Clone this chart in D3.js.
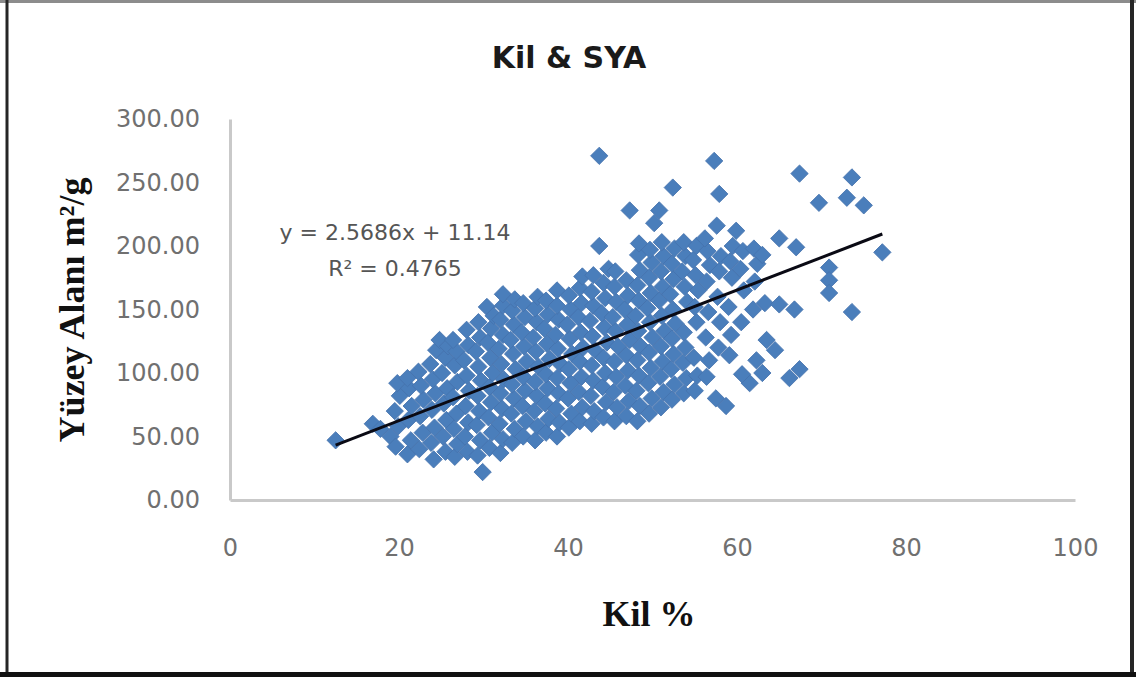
<!DOCTYPE html>
<html>
<head>
<meta charset="utf-8">
<script src="https://cdn.jsdelivr.net/npm/d3@7"></script>
<style>
  html, body { margin: 0; padding: 0; background: #fff; }
  svg { display: block; }
</style>
</head>
<body>
<svg id="chart" width="1136" height="677"></svg>
<script>
// Labels and axis ticks
const chartTitle = "Kil & SYA";
const xLabel = "Kil %";
const yLabel = "Yüzey Alanı m²/g";
const xTicks = [0, 20, 40, 60, 80, 100];
const yTicks = [0, 50, 100, 150, 200, 250, 300];

// Linear trend reported on the chart
const trendSlope = 2.5686;
const trendIntercept = 11.14;
const rSquared = 0.4765;

// Samples: [clay %, specific surface area m²/g]
const samples = [
  [12.5,47],[16.9,60],[17.8,56],[19.0,50],[29.9,22],
  [19.6,42],[19.9,58],[19.5,70],[20.1,82],[19.8,92],
  [21.0,36],[21.4,47],[21.1,63],[21.5,74],[21.2,88],[21.0,96],
  [22.4,40],[22.8,53],[22.5,66],[22.9,79],[22.6,90],[22.3,101],
  [24.1,32],[23.8,45],[24.2,57],[23.9,71],[24.3,84],[24.0,95],[23.7,107],[24.4,118],[24.8,126],
  [25.5,38],[25.2,50],[25.6,63],[25.3,76],[25.7,88],[25.1,100],[25.5,112],[25.8,121],
  [26.6,34],[26.9,44],[26.5,56],[26.8,68],[26.4,81],[26.9,93],[26.6,106],[26.8,117],[26.4,126],
  [28.1,38],[27.8,50],[28.2,61],[27.9,74],[28.3,86],[28.0,98],[27.7,110],[28.2,122],[28.0,134],
  [29.3,35],[29.6,47],[29.2,59],[29.5,70],[29.3,82],[29.7,94],[29.4,105],[29.1,117],[29.6,128],[29.4,140],[30.4,152],
  [30.7,41],[31.0,53],[30.6,65],[30.9,77],[30.7,89],[31.1,100],[30.8,112],[30.5,124],[30.9,135],[31.2,145],
  [32.0,37],[32.3,48],[31.9,60],[32.2,72],[32.0,84],[32.4,95],[32.1,107],[31.8,119],[32.3,130],[32.0,142],[32.3,153],[32.3,162],
  [33.4,45],[33.7,56],[33.3,68],[33.6,80],[33.4,91],[33.8,103],[33.5,115],[33.2,126],[33.6,138],[33.4,149],[33.7,158],
  [34.7,50],[35.0,62],[34.6,74],[34.9,86],[34.7,97],[35.1,109],[34.8,121],[34.5,132],[34.9,144],[34.7,155],
  [36.1,47],[36.4,58],[36.0,70],[36.3,82],[36.1,93],[36.5,105],[36.2,117],[35.9,128],[36.3,140],[36.1,151],[36.4,160],
  [37.4,53],[37.7,64],[37.3,76],[37.6,88],[37.4,99],[37.8,111],[37.5,123],[37.2,135],[37.6,146],[37.4,157],
  [38.7,50],[39.0,61],[38.6,72],[38.9,84],[38.7,96],[39.1,107],[38.8,119],[38.5,130],[38.9,142],[38.7,153],[38.7,165],
  [40.1,57],[40.4,68],[40.0,80],[40.3,92],[40.1,103],[40.5,115],[40.2,127],[39.9,138],[40.3,150],[40.1,161],
  [41.4,62],[41.7,73],[41.3,85],[41.6,97],[41.4,109],[41.8,120],[41.5,132],[41.2,144],[41.6,155],[41.4,167],[41.7,176],
  [42.8,60],[43.1,70],[42.7,82],[43.0,94],[42.8,106],[43.2,118],[42.9,129],[42.6,141],[43.0,153],[42.8,164],[43.0,177],
  [44.2,65],[44.5,77],[44.1,89],[44.4,100],[44.2,112],[44.6,124],[44.3,136],[44.0,147],[44.4,159],[44.2,171],[44.8,182],[43.7,200],[43.7,271],
  [45.5,62],[45.8,73],[45.4,85],[45.7,97],[45.5,109],[45.9,121],[45.6,133],[45.3,144],[45.7,156],[45.5,168],[45.6,180],
  [46.9,66],[47.2,78],[46.8,90],[47.1,102],[46.9,114],[47.3,126],[47.0,138],[46.7,150],[47.1,161],[46.9,173],[47.3,228],
  [48.2,62],[48.5,74],[48.1,86],[48.4,98],[48.2,110],[48.6,121],[48.3,133],[48.0,145],[48.4,157],[48.2,169],[48.5,181],[48.3,193],[48.4,202],
  [49.6,68],[49.9,80],[49.5,92],[49.8,104],[49.6,116],[50.0,128],[49.7,140],[49.4,151],[49.8,163],[49.6,175],[49.9,187],[49.7,197],[50.2,218],[50.8,228],
  [51.0,73],[51.3,85],[50.9,97],[51.2,109],[51.0,121],[51.4,133],[51.1,145],[50.8,157],[51.2,168],[51.0,180],[51.3,192],[51.1,203],
  [52.3,79],[52.6,91],[52.2,103],[52.5,115],[52.3,127],[52.7,139],[52.4,150],[52.1,162],[52.5,174],[52.3,186],[52.6,198],[52.4,246],
  [53.7,84],[54.0,96],[53.6,108],[53.9,120],[53.7,132],[54.1,156],[53.8,168],[53.5,180],[53.9,192],[53.7,203],
  [55.0,86],[55.3,98],[54.9,112],[55.2,140],[55.0,152],[55.4,165],[55.1,177],[54.8,189],[55.2,200],
  [56.4,97],[56.7,110],[56.3,128],[56.6,148],[56.4,172],[56.8,185],[56.5,196],[56.2,206],
  [57.5,80],[58.7,74],[57.8,120],[58.0,140],[57.7,160],[57.9,180],[58.1,192],[57.6,216],[57.9,241],[57.3,267],
  [59.1,114],[59.3,130],[59.0,152],[59.4,175],[59.2,188],[59.9,212],[59.5,200],
  [60.5,140],[60.8,165],[60.4,182],[60.7,196],
  [62.3,110],[61.9,150],[62.1,172],[62.4,186],[62.0,198],
  [63.0,100],[63.5,126],[63.0,193],[63.3,155],[65.0,154],[66.8,150],[65.0,206],[67.0,199],
  [67.4,103],[66.2,96],[67.4,257],[69.7,234],[73.6,254],[73.0,238],[75.0,232],[77.2,195],
  [70.9,183],[70.9,173],[70.9,163],[73.6,148],[64.5,118],[61.5,92],[60.6,99]
];

const svg = d3.select("#chart");
const W = 1136, H = 677;

// Outer chart frame
svg.append("line").attr("x1", 0).attr("x2", W).attr("y1", 1.5).attr("y2", 1.5)
  .attr("stroke", "#8c8c8c").attr("stroke-width", 3);
svg.append("line").attr("x1", 7).attr("x2", 7).attr("y1", 0).attr("y2", H)
  .attr("stroke", "#262626").attr("stroke-width", 3);
svg.append("line").attr("x1", 1132).attr("x2", 1132).attr("y1", 0).attr("y2", H)
  .attr("stroke", "#262626").attr("stroke-width", 4);
svg.append("line").attr("x1", 0).attr("x2", W).attr("y1", 674.5).attr("y2", 674.5)
  .attr("stroke", "#111").attr("stroke-width", 5);

// Scales
const x = d3.scaleLinear().domain([0, 100]).range([230, 1075]);
const y = d3.scaleLinear().domain([0, 300]).range([500, 119]);

// Axes
const yAxis = svg.append("g").attr("transform", `translate(${x(0)},0)`)
  .call(d3.axisLeft(y).tickValues(yTicks).tickFormat(d3.format(".2f")).tickSize(0).tickPadding(30));
const xAxis = svg.append("g").attr("transform", `translate(0,${y(0)})`)
  .call(d3.axisBottom(x).tickValues(xTicks).tickFormat(d3.format("d")).tickSize(0).tickPadding(39));

[yAxis, xAxis].forEach(g => {
  g.select(".domain").attr("stroke", "#c9c9c9").attr("stroke-width", 3);
  g.selectAll(".tick text")
    .attr("fill", "#707070")
    .style("font-family", "'DejaVu Sans', sans-serif")
    .style("font-size", "24px");
});

// Points (rotated squares = diamonds)
const diamond = d3.symbol().type(d3.symbolSquare).size(150);
svg.append("g").selectAll("path")
  .data(samples)
  .join("path")
  .attr("d", diamond)
  .attr("transform", d => `translate(${x(d[0])},${y(d[1])}) rotate(45)`)
  .attr("fill", "#4a7ebb")
  .attr("stroke", "#4673ad")
  .attr("stroke-width", 0.8);

// Trend line across the data range
const xExt = d3.extent(samples, d => d[0]);
const trend = xExt.map(v => [v, trendSlope * v + trendIntercept]);
svg.append("path")
  .datum(trend)
  .attr("d", d3.line().x(d => x(d[0])).y(d => y(d[1])))
  .attr("stroke", "#0a0a14")
  .attr("stroke-width", 3)
  .attr("fill", "none");

// Equation label
const eq = svg.append("g")
  .style("font-family", "'DejaVu Sans', sans-serif")
  .style("font-size", "22px")
  .attr("fill", "#555")
  .attr("text-anchor", "middle");
eq.append("text").attr("x", 395).attr("y", 240)
  .text(`y = ${trendSlope}x + ${trendIntercept}`);
eq.append("text").attr("x", 395).attr("y", 276)
  .text(`R² = ${rSquared}`);

// Title
svg.append("text")
  .attr("x", 569).attr("y", 68)
  .attr("text-anchor", "middle")
  .attr("fill", "#1a1a1a")
  .style("font-family", "'DejaVu Sans', sans-serif")
  .style("font-weight", "bold")
  .style("font-size", "30px")
  .text(chartTitle);

// Axis titles
svg.append("text")
  .attr("x", 649).attr("y", 626)
  .attr("text-anchor", "middle")
  .attr("fill", "#111")
  .style("font-family", "'Liberation Serif', serif")
  .style("font-weight", "bold")
  .style("font-size", "36px")
  .text(xLabel);

svg.append("text")
  .attr("transform", "translate(84,310) rotate(-90)")
  .attr("text-anchor", "middle")
  .attr("fill", "#111")
  .style("font-family", "'Liberation Serif', serif")
  .style("font-weight", "bold")
  .style("font-size", "36px")
  .text(yLabel);
</script>
</body>
</html>
